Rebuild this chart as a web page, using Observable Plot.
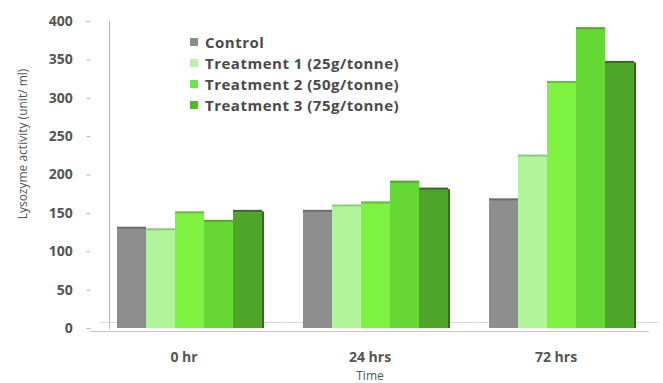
<!DOCTYPE html>
<html>
<head>
<meta charset="utf-8">
<script src="https://cdn.jsdelivr.net/npm/d3@7"></script>
<script src="https://cdn.jsdelivr.net/npm/@observablehq/plot@0.6"></script>
<style>
  html, body { margin: 0; padding: 0; background: #fff; }
  #chart { position: relative; width: 663px; height: 383px; font-family: "Open Sans", "Noto Sans", sans-serif; }
  #legend { position: absolute; left: 190px; top: 31px; font-weight: 700; font-size: 15px; letter-spacing: 0.5px; color: #4a4a4a; }
  #legend .row { display: flex; align-items: center; height: 21px; white-space: nowrap; }
  #legend .sw { width: 8px; height: 8px; margin-right: 7px; }
  #ylabel { position: absolute; left: 22px; top: 144px; transform: translate(-50%, -50%) rotate(-90deg);
    white-space: nowrap; font-size: 12px; color: #555; }
</style>
</head>
<body>
<div id="chart"></div>
<script>
// Sampling times (groups along the x axis)
const times = ["0 hr", "24 hrs", "72 hrs"];

// Bar series within each group, left to right
const seriesKeys = ["control", "t1", "t2", "t2b", "t3"];
const barColors = ["#8e8e8e", "#b0f59a", "#7ef240", "#66d835", "#4fa52a"];
const edgeColors = ["#6a6a6a", "#86cf70", "#5cc424", "#48ae1e", "#2f6e14"];

// Lysozyme activity (unit/ml) per series, one value per time
const control = [130, 152, 167];
const treatment1 = [128, 159, 224];
const treatment2 = [150, 163, 320];
const treatment2b = [139, 190, 390];
const treatment3 = [152, 181, 346];

// Legend entries
const legendLabels = ["Control", "Treatment 1 (25g/tonne)", "Treatment 2 (50g/tonne)", "Treatment 3 (75g/tonne)"];
const legendColors = ["#8c8c8c", "#b8f2a8", "#6ee24a", "#52b830"];

// Axis ticks and titles
const yTicks = [0, 50, 100, 150, 200, 250, 300, 350, 400];
const yLabel = "Lysozyme activity (unit/ ml)";
const xLabel = "Time";

const seriesValues = [control, treatment1, treatment2, treatment2b, treatment3];
const rows = [];
times.forEach((t, i) => {
  seriesKeys.forEach((s, j) => rows.push({time: t, series: s, value: seriesValues[j][i]}));
});
const lastRows = rows.filter(d => d.series === seriesKeys[seriesKeys.length - 1]);

const textColor = "#555";
const gap = 18.7; // outer padding between the frame edge and the first/last group

const chart = Plot.plot({
  width: 663,
  height: 383,
  marginLeft: 90,
  marginRight: 14,
  marginTop: 21,
  marginBottom: 55,
  style: {fontFamily: "'Open Sans', 'Noto Sans', sans-serif", background: "#fff"},
  fx: {domain: times, paddingInner: 0.2, paddingOuter: 0.1, label: null, axis: null},
  x: {domain: seriesKeys, padding: 0, axis: null},
  y: {domain: [0, 400], axis: null},
  color: {domain: seriesKeys, range: barColors},
  marks: [
    // floor of the plot
    Plot.ruleY([0], {stroke: "#c8c8c8", dy: 3, insetLeft: -gap, insetRight: -gap}),
    Plot.ruleY([0], {stroke: "#d8d8d8", dx: 10, dy: -6, insetLeft: -gap, insetRight: -gap}),
    // y axis line
    Plot.frame({facet: "super", anchor: "left", stroke: "#b5b5b5"}),
    // y axis ticks and labels
    Plot.axisY({ticks: yTicks, tickSize: 4, tickPadding: 14, dx: -gap, stroke: "#b5b5b5",
      fill: textColor, fontSize: 14, fontWeight: 700, label: null}),
    // bars
    Plot.barY(rows, {fx: "time", x: "series", y: "value", fill: "series", dx: 6}),
    // darker right face on the last bar of each group
    Plot.barY(lastRows, {fx: "time", x: "series", y: "value", fill: edgeColors[4], dx: 8, insetLeft: 27}),
    // top edge of each bar
    Plot.tickY(rows, {fx: "time", x: "series", y: "value", dx: 6, dy: -1, strokeWidth: 2,
      stroke: d => edgeColors[seriesKeys.indexOf(d.series)]}),
    // group labels
    Plot.axisFx({anchor: "bottom", tickSize: 0, tickPadding: 24, fill: textColor, fontSize: 14, fontWeight: 700, label: null}),
    Plot.text([xLabel], {facet: "super", frameAnchor: "bottom", dy: 51, fill: textColor, fontSize: 12})
  ]
});

const root = document.getElementById("chart");
root.appendChild(chart);

const ylab = document.createElement("div");
ylab.id = "ylabel";
ylab.textContent = yLabel;
root.appendChild(ylab);

const legend = document.createElement("div");
legend.id = "legend";
legendLabels.forEach((label, i) => {
  const row = document.createElement("div");
  row.className = "row";
  const sw = document.createElement("span");
  sw.className = "sw";
  sw.style.background = legendColors[i];
  const tx = document.createElement("span");
  tx.textContent = label;
  row.appendChild(sw);
  row.appendChild(tx);
  legend.appendChild(row);
});
root.appendChild(legend);
</script>
</body>
</html>
